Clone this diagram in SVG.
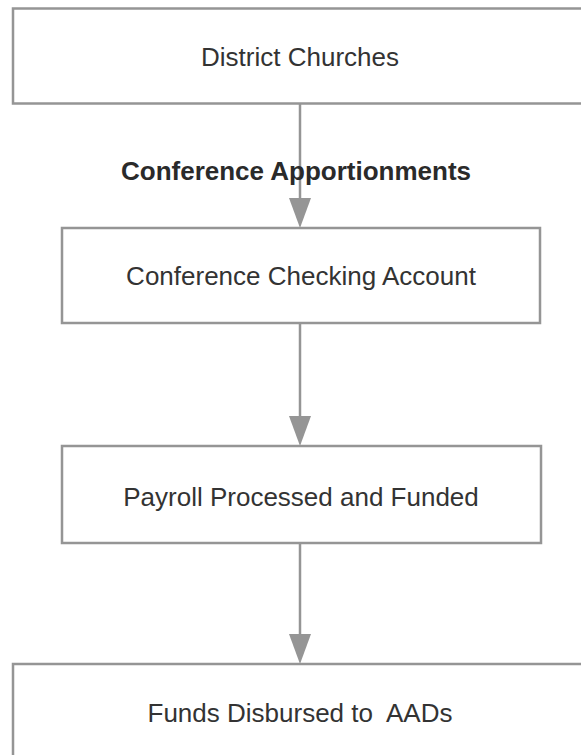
<svg xmlns="http://www.w3.org/2000/svg" width="581" height="755" viewBox="0 0 581 755">
<style>
.box{fill:#fff;stroke:#959595;stroke-width:2.5}
.t{font-family:"Liberation Sans",Arial,sans-serif;font-size:26px;fill:#333;text-anchor:middle}
.b{font-weight:bold;fill:#2a2a2a}
.c{stroke:#959595;stroke-width:2.5;fill:none}
.h{fill:#959595}
</style>
<rect width="581" height="755" fill="#fff"/>
<g id="n1"><rect class="box" x="13" y="8.5" width="590" height="95"/><text class="t" x="300" y="66">District Churches</text></g>
<g id="n2"><rect class="box" x="62" y="228" width="478" height="95"/><text class="t" x="301" y="285">Conference Checking Account</text></g>
<g id="n3"><rect class="box" x="62" y="446" width="479" height="97"/><text class="t" x="301" y="506">Payroll Processed and Funded</text></g>
<g id="n4"><rect class="box" x="13" y="664" width="590" height="110"/><text class="t" x="300" y="722" xml:space="preserve">Funds Disbursed to  AADs</text></g>
<g id="connectors">
<line class="c" x1="300" y1="104" x2="300" y2="200"/>
<polygon class="h" points="289,198 311,198 300,228"/>
<line class="c" x1="300" y1="323" x2="300" y2="418"/>
<polygon class="h" points="289,416 311,416 300,446"/>
<line class="c" x1="300" y1="543" x2="300" y2="636"/>
<polygon class="h" points="289,634 311,634 300,664"/>
</g>
<text class="t b" x="296" y="180">Conference Apportionments</text>
</svg>
